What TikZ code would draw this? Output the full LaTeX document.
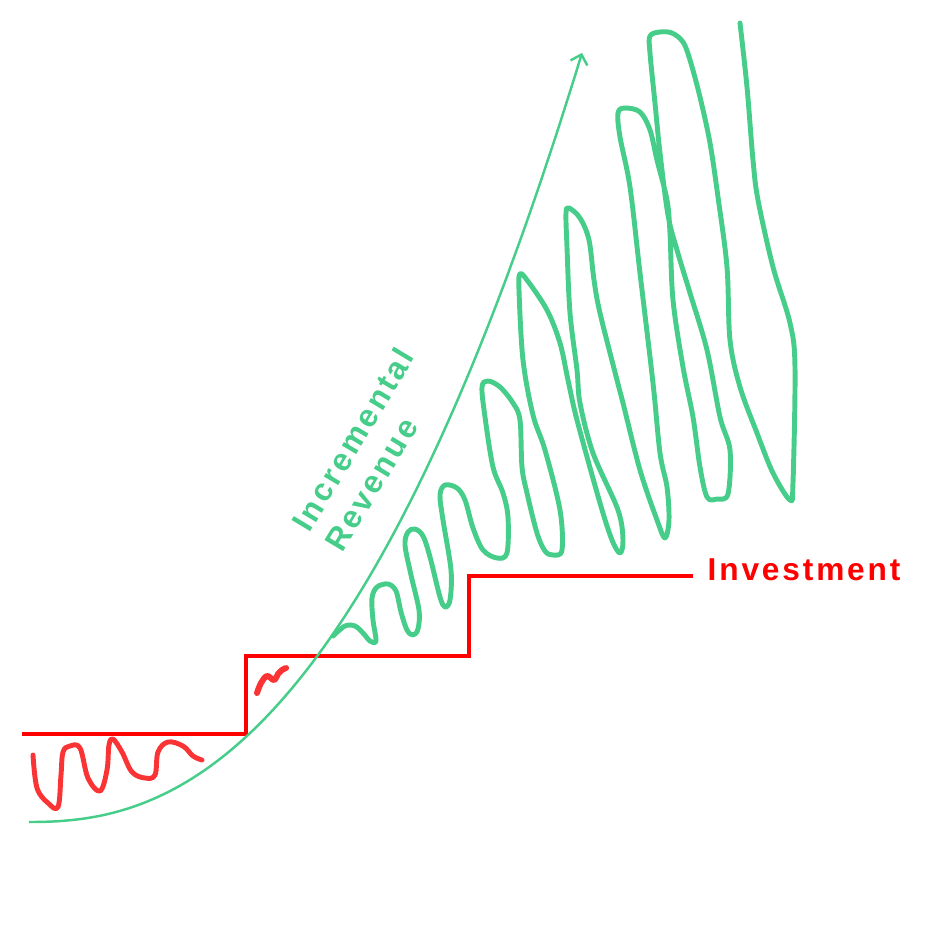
\documentclass[tikz,border=0pt]{standalone}
\usepackage{fontspec}
\usepackage{xcolor}
\usetikzlibrary{arrows.meta, positioning}
\newfontfamily\labelfont[LetterSpace=9]{Liberation Sans}
\definecolor{revgreen}{RGB}{69,205,137}
\definecolor{invred}{RGB}{255,0,0}
\definecolor{scribred}{RGB}{250,52,52}

\begin{document}
\begin{tikzpicture}[
  x=0.01cm, y=-0.01cm,
  stairline/.style={draw=invred, line width=1.15pt},
  revcurve/.style={draw=revgreen, line width=0.7pt, -{Straight Barb[length=2.5pt, width=5pt]}},
  greenscrib/.style={draw=revgreen, line width=1.4pt, line cap=round, line join=round},
  redscrib/.style={draw=scribred, line width=1.4pt, line cap=round, line join=round},
  revlabel/.style={text=revgreen, font=\labelfont\bfseries\fontsize{9}{11}\selectfont,
                   inner sep=0pt, align=left, rotate=59, anchor=south west},
  invlabel/.style={text=invred, font=\labelfont\bfseries\fontsize{9}{11}\selectfont,
                   inner sep=0pt, anchor=base west}
]
\useasboundingbox (0,0) rectangle (938,938);

% investment steps
\draw[stairline] (22,734) -| (246,656) -| (469,576) -- (693,576);
\node[invlabel] (invest) at (707,580) {Investment};

% revenue curve
\draw[revcurve] plot[domain=29:582, samples=90, smooth]
  (\x, {822-167*((\x-28)/290)^2.36});
\node[revlabel] (revtext) at (343,555) {Incremental\\Revenue};

% red scribbles
\draw[redscrib] plot[smooth, tension=0.6] coordinates {
  (33,755) (37,788) (48,803) (58,807) (61,775) (63,752) (70,746) (80,748)
  (88,778) (100,791) (107,770) (109,745) (113,739) (122,752) (132,772)
  (145,778) (155,775) (158,752) (168,742) (183,746) (193,756) (202,760)};
\draw[redscrib, line width=1.7pt] plot[smooth, tension=0.6] coordinates {
  (257,693) (261,683) (267,676) (274,680) (278,674) (282,670) (286,668)};

% green scribble
\draw[greenscrib] plot[smooth, tension=0.55] coordinates {
  (333,636) (345,626) (355,626) (363,633) (370,641) (376,641) (373,620) (372,598)
  (377,587) (388,584) (396,591) (401,612) (407,630) (413,635) (418,629) (419,610)
  (411,575) (405,545) (408,532) (415,529) (423,536) (430,557) (440,597) (445,607)
  (450,600) (451,570) (443,520) (440,495) (445,485) (457,488) (465,500) (473,528)
  (483,550) (497,558) (507,553) (508,517) (503,493) (493,467) (485,417) (482,387)
  (488,381) (500,387) (513,403) (520,420) (522,467) (527,493) (537,533) (545,551)
  (553,555) (562,550) (560,510) (545,450) (533,415) (523,360) (519,290) (520,274)
  (527,280) (547,310) (560,343) (568,380) (577,420) (600,503) (612,540) (620,553)
  (623,540) (618,510) (593,453) (580,403) (577,370) (570,313) (567,247) (566,213)
  (569,208) (580,218) (589,240) (594,280) (600,313) (617,380) (623,403) (640,470)
  (657,520) (665,538) (669,520) (667,487) (660,453) (653,383) (640,273) (630,187)
  (620,137) (618,113) (625,108) (640,112) (650,130) (657,160) (667,200) (670,233)
  (673,300) (683,367) (693,417) (700,467) (707,497) (717,499) (728,494) (730,450)
  (720,417) (707,350) (690,293) (677,250) (668,215) (660,153) (655,103) (650,53)
  (650,36) (660,32) (672,33) (683,42) (690,60) (700,97) (710,143) (718,197)
  (727,267) (730,340) (740,387) (757,433) (773,473) (790,500) (793,483) (795,367)
  (790,323) (773,267) (758,200) (753,160) (747,87) (740,23)};
\end{tikzpicture}
\end{document}
